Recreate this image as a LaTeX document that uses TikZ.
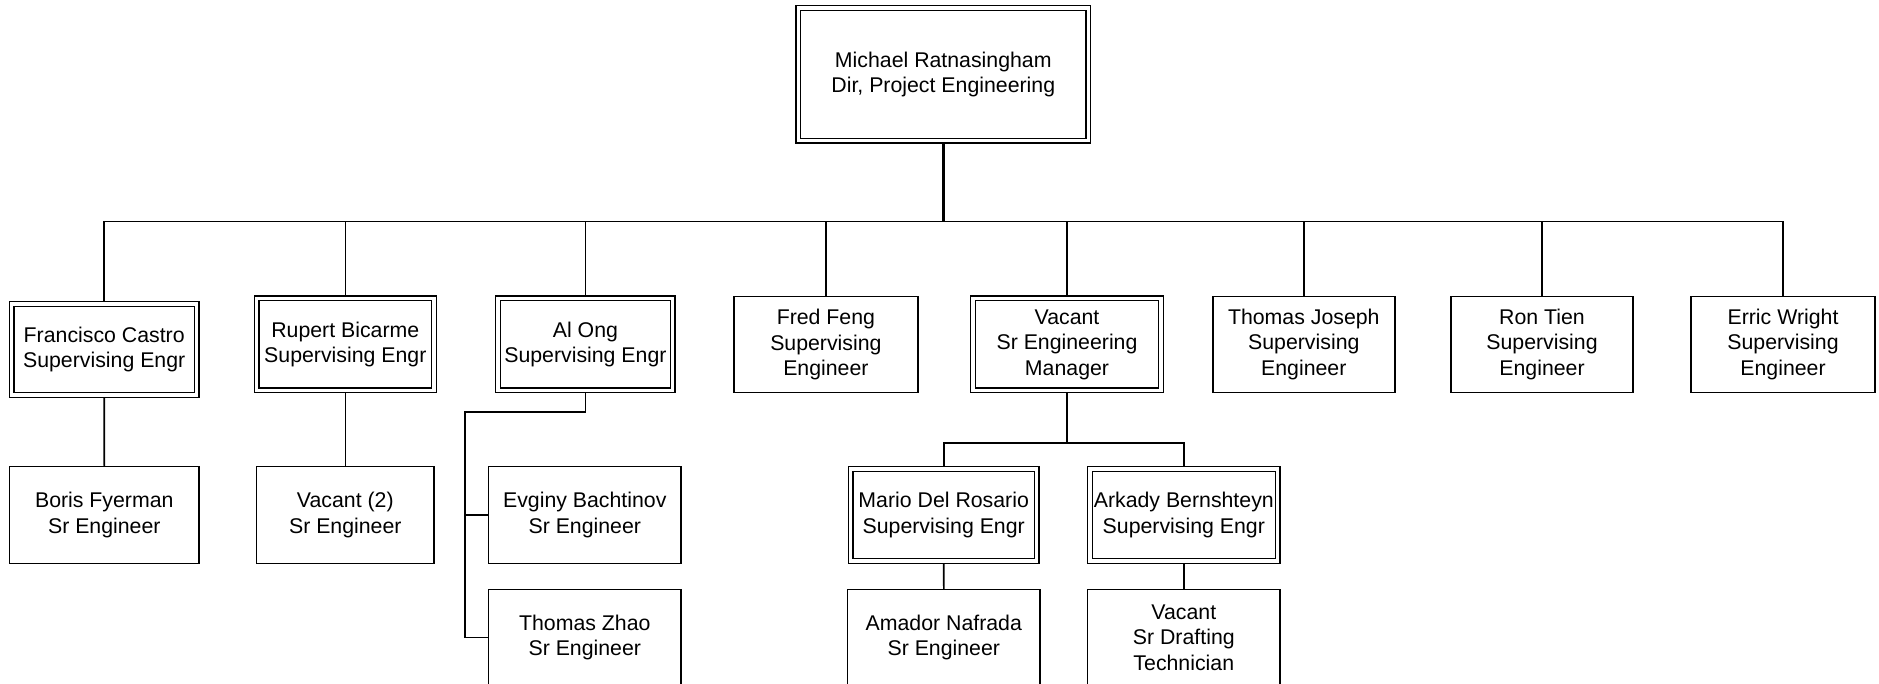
\documentclass[tikz,border=0pt]{standalone}
\usepackage{fontspec}
\setmainfont{Liberation Sans}
\usetikzlibrary{backgrounds}
\newcommand\orgfont{\fontsize{21.3}{25.5}\selectfont}
\tikzset{
  box/.style={draw, line width=1.5pt, fill=white, inner sep=0pt, outer sep=0pt,
    align=center, font=\orgfont, minimum height=96.6pt},
  dbox/.style={box, double, double distance=3.2pt, line width=1.4pt, minimum height=92pt},
  link/.style={line width=1.6pt},
  toplink/.style={line width=2.6pt},
}
\begin{document}
\begin{tikzpicture}[x=1pt,y=-1pt]
\useasboundingbox (0,0) rectangle (1879,684);
\clip (0,0) rectangle (1879,684);
% top
\node[dbox, minimum width=290.1pt, minimum height=132.7pt] (top) at (943.3,74.4) {Michael Ratnasingham\\Dir, Project Engineering};
% row 1
\node[dbox, minimum width=185.1pt, minimum height=91pt] (fc) at (104.2,349.5) {Francisco Castro\\Supervising Engr};
\node[dbox, minimum width=177.4pt] (rb) at (345.3,344.4) {Rupert Bicarme\\Supervising Engr};
\node[dbox, minimum width=174.7pt] (ao) at (585.4,344.4) {Al Ong\\Supervising Engr};
\node[box, minimum width=184.3pt, minimum height=96pt] (ff) at (825.9,344.7) {Fred Feng\\Supervising\\Engineer};
\node[dbox, minimum width=188pt] (vm) at (1067,344.4) {Vacant\\Sr Engineering\\Manager};
\node[box, minimum width=182pt, minimum height=96pt] (tj) at (1303.8,344.4) {Thomas Joseph\\Supervising\\Engineer};
\node[box, minimum width=182pt, minimum height=96pt] (rt) at (1542,344.4) {Ron Tien\\Supervising\\Engineer};
\node[box, minimum width=184pt, minimum height=96pt] (ew) at (1783,344.4) {Erric Wright\\Supervising\\Engineer};
% row 2
\node[box, minimum width=189.3pt] (bf) at (104.3,515) {Boris Fyerman\\Sr Engineer};
\node[box, minimum width=177.3pt] (v2) at (345.3,515) {Vacant (2)\\Sr Engineer};
\node[box, minimum width=192.3pt] (eb) at (584.8,515) {Evginy Bachtinov\\Sr Engineer};
\node[dbox, minimum width=186.1pt] (mr) at (943.7,515) {Mario Del Rosario\\Supervising Engr};
\node[dbox, minimum width=187.7pt] (ab) at (1183.8,515) {Arkady Bernshteyn\\Supervising Engr};
% row 3
\node[box, minimum width=192.3pt] (tz) at (584.8,637.6) {Thomas Zhao\\Sr Engineer};
\node[box, minimum width=192.3pt] (an) at (943.8,637.6) {Amador Nafrada\\Sr Engineer};
\node[box, minimum width=192.3pt] (vd) at (1183.8,637.6) {Vacant\\Sr Drafting\\Technician};
% connectors
\begin{scope}[on background layer]
\fill[white] (0,0) rectangle (1879,684);
\coordinate (bus) at (943.3,221.7);
\draw[toplink] (top.south) -- (bus);
\draw[link] (fc.north) |- (bus) -| (ew.north);
\foreach \n in {rb,ao,ff,vm,tj,rt}{\draw[link] (\n.north) -- (\n.north |- bus);}
\draw[link] (fc.south) -- (bf.north);
\draw[link] (rb.south) -- (v2.north);
\coordinate (aoelbow) at (465,411.7);
\draw[link] (ao.south) |- (aoelbow) |- (tz.west);
\draw[link] (aoelbow |- eb.west) -- (eb.west);
\coordinate (vmbus) at (1067,442.7);
\draw[link] (vm.south) -- (vmbus);
\draw[link] (mr.north) |- (vmbus) -| (ab.north);
\draw[link] (mr.south) -- (an.north);
\draw[link] (ab.south) -- (vd.north);
\end{scope}
\end{tikzpicture}
\end{document}
